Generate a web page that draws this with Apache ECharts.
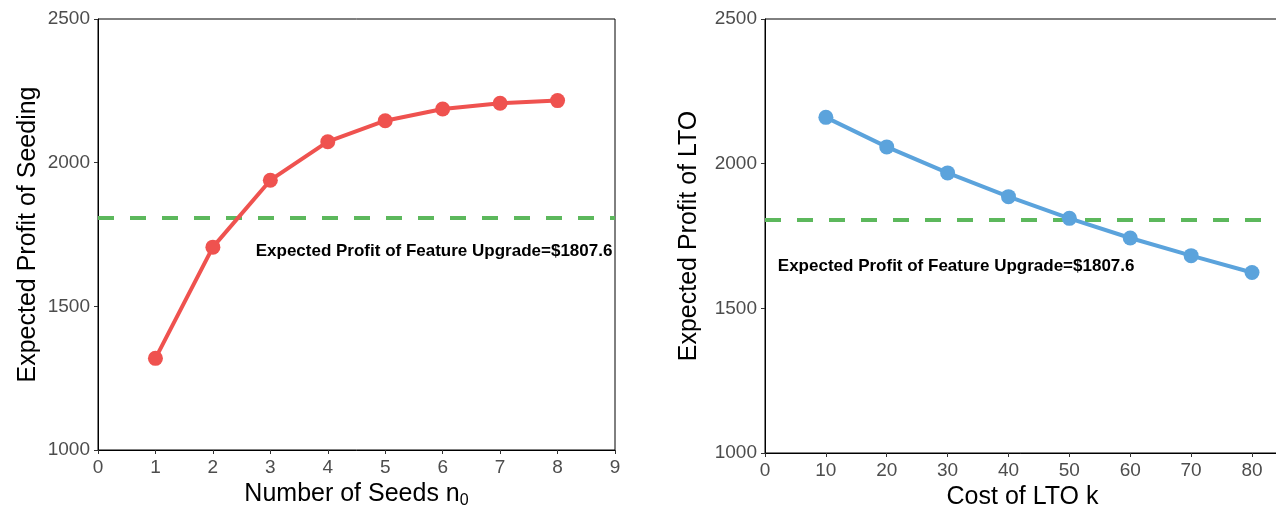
<!DOCTYPE html>
<html>
<head>
<meta charset="utf-8">
<script src="https://cdn.jsdelivr.net/npm/echarts@6/dist/echarts.min.js"></script>
<style>
  html, body { margin: 0; padding: 0; background: #fff; }
  #main { width: 1276px; height: 506px; }
</style>
</head>
<body>
<div id="main"></div>
<script>
// data
var seeds = [1, 2, 3, 4, 5, 6, 7, 8];
var seedProfit = [1319, 1706, 1939, 2073, 2146, 2187, 2207, 2216];
var ltoCost = [10, 20, 30, 40, 50, 60, 70, 80];
var ltoProfit = [2160, 2058, 1968, 1886, 1811, 1743, 1682, 1624];
var upgradeProfit = 1807.6;
var seedTicks = [0, 1, 2, 3, 4, 5, 6, 7, 8, 9];
var costTicks = [0, 10, 20, 30, 40, 50, 60, 70, 80];
var noteText = 'Expected Profit of Feature Upgrade=$1807.6';
// where the note sits, in data units
var seedNote = [5.85, 1690];
var costNote = [31.4, 1645];

var FONT = 'Liberation Sans, Arial, sans-serif';

function pairs(xs, ys) {
  return xs.map(function (x, i) { return [x, ys[i]]; });
}

function xAxisOpt(idx, max, ticks, name, gap) {
  return {
    type: 'value', gridIndex: idx, min: 0, max: max,
    name: name, nameLocation: 'middle', nameGap: gap,
    nameTextStyle: {
      fontFamily: FONT, fontSize: 25, color: '#000',
      rich: { sub: { fontFamily: FONT, fontSize: 16, color: '#000', padding: [12, 0, 0, 0] } }
    },
    axisLine: { show: true, lineStyle: { color: '#000', width: 1 } },
    axisTick: { show: true, length: 4, lineStyle: { color: '#333' }, customValues: ticks },
    axisLabel: { fontFamily: FONT, fontSize: 19, color: '#4d4d4d', margin: 8, customValues: ticks },
    splitLine: { show: false }
  };
}

function yAxisOpt(idx, name, gap) {
  return {
    type: 'value', gridIndex: idx, min: 1000, max: 2500, interval: 500,
    name: name, nameLocation: 'middle', nameGap: gap,
    nameTextStyle: { fontFamily: FONT, fontSize: 25, color: '#000' },
    axisLine: { show: true, lineStyle: { color: '#000', width: 1 } },
    axisTick: { show: true, length: 4, lineStyle: { color: '#333' } },
    axisLabel: {
      fontFamily: FONT, fontSize: 19, color: '#4d4d4d', margin: 8,
      formatter: function (v) { return String(v); }
    },
    splitLine: { show: false }
  };
}

function lineSeries(idx, data, color, note) {
  return {
    type: 'line', xAxisIndex: idx, yAxisIndex: idx,
    data: data,
    symbol: 'circle', symbolSize: 15,
    lineStyle: { color: color, width: 4 },
    itemStyle: { color: color },
    z: 3,
    markLine: {
      silent: true, symbol: 'none', animation: false,
      lineStyle: { color: '#5cb85c', width: 4, type: [16, 16] },
      label: { show: false },
      data: [{ yAxis: upgradeProfit }],
      z: 1
    },
    markPoint: {
      silent: true, symbol: 'circle', symbolSize: 0,
      label: {
        show: true, formatter: noteText, position: 'inside',
        fontFamily: FONT, fontSize: 17, color: '#000', fontWeight: 'bold'
      },
      data: [{ coord: note }]
    }
  };
}

var myChart = echarts.init(document.getElementById('main'));
var option = {
  animation: false,
  backgroundColor: '#fff',
  grid: [
    { left: 98, right: 661, top: 19, bottom: 56, show: true, borderColor: '#000', borderWidth: 1, outerBoundsMode: 'none' },
    { left: 765, right: -4, top: 19, bottom: 53, show: true, borderColor: '#000', borderWidth: 1, outerBoundsMode: 'none' }
  ],
  xAxis: [
    xAxisOpt(0, 9, seedTicks, 'Number of Seeds n{sub|0}', 26),
    xAxisOpt(1, 84.6, costTicks, 'Cost of LTO k', 26)
  ],
  yAxis: [
    yAxisOpt(0, 'Expected Profit of Seeding', 57),
    yAxisOpt(1, 'Expected Profit of LTO', 63)
  ],
  series: [
    lineSeries(0, pairs(seeds, seedProfit), '#ef524f', seedNote),
    lineSeries(1, pairs(ltoCost, ltoProfit), '#5ba3dc', costNote)
  ]
};
myChart.setOption(option);
</script>
</body>
</html>
